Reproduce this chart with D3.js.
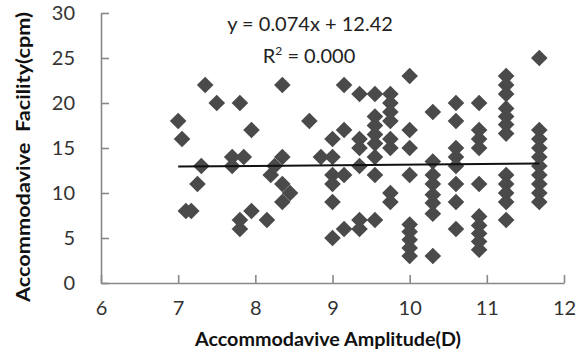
<!DOCTYPE html>
<html>
<head>
<meta charset="utf-8">
<script src="https://cdn.jsdelivr.net/npm/d3@7"></script>
<style>
  body { margin: 0; background: #fff; }
  text { font-family: Lato, "Liberation Sans", sans-serif; }
</style>
</head>
<body>
<svg id="chart"></svg>
<script>
// values
var amplitude = [7.0, 7.05, 7.1, 7.17, 7.25, 7.3, 7.35, 7.5, 7.7, 7.7, 7.8, 7.8, 7.8, 7.85, 7.95, 7.95,
  8.15, 8.2, 8.25, 8.35, 8.35, 8.35, 8.35, 8.45, 8.7, 8.85,
  9.0, 9.0, 9.0, 9.0, 9.0, 9.0, 9.15, 9.15, 9.15, 9.15,
  9.35, 9.35, 9.35, 9.35, 9.35, 9.35,
  9.55, 9.55, 9.55, 9.55, 9.55, 9.55, 9.55, 9.55,
  9.75, 9.75, 9.75, 9.75, 9.75, 9.75, 9.75, 9.75,
  10.0, 10.0, 10.0, 10.0, 10.0, 10.0, 10.0, 10.0, 10.0,
  10.3, 10.3, 10.3, 10.3, 10.3, 10.3, 10.3, 10.3,
  10.6, 10.6, 10.6, 10.6, 10.6, 10.6, 10.6, 10.6,
  10.9, 10.9, 10.9, 10.9, 10.9, 10.9, 10.9, 10.9, 10.9, 10.9,
  11.25, 11.25, 11.25, 11.25, 11.25, 11.25, 11.25, 11.25, 11.25, 11.25, 11.25, 11.25,
  11.68, 11.68, 11.68, 11.68, 11.68, 11.68, 11.68, 11.68, 11.68, 11.68];
var facility = [18, 16, 8, 8, 11, 13, 22, 20, 14, 13, 20, 7, 6, 14, 17, 8,
  7, 12, 13, 22, 14, 11, 9, 10, 18, 14,
  16, 14, 12, 11, 9, 5, 22, 17, 12, 6,
  21, 16, 15, 13, 7, 6,
  21, 18.5, 17.5, 16.5, 15.5, 14, 12, 7,
  21, 20, 19, 18, 16, 15, 10, 9,
  23, 17, 15, 12, 6.5, 5.7, 4.8, 3.9, 3,
  19, 13.5, 12, 11, 9.8, 8.9, 7.7, 3,
  20, 18, 15, 14, 13, 11, 9, 6,
  20, 17, 16, 15, 11, 7.4, 6.4, 5.5, 4.6, 3.7,
  23, 22, 21, 19.4, 18.5, 17.6, 16.6, 12, 11, 10, 9, 7,
  25, 17, 16, 15, 14, 13, 12, 11, 10, 9];
var xTicks = [6, 7, 8, 9, 10, 11, 12];
var yTicks = [0, 5, 10, 15, 20, 25, 30];
var slope = 0.074, intercept = 12.42;
var equation = "y = 0.074x + 12.42";
var rSquared = "0.000";

var W = 583, H = 356;
var svg = d3.select("#chart").attr("width", W).attr("height", H);

var x = d3.scaleLinear().domain([6, 12]).range([101, 564]);
var y = d3.scaleLinear().domain([0, 30]).range([283, 13]);

// axes, ticks point into the plot
var xAxis = svg.append("g")
  .attr("transform", "translate(0," + y(0) + ")")
  .call(d3.axisBottom(x).tickValues(xTicks).tickFormat(d3.format("d"))
    .tickSizeInner(-8).tickSizeOuter(0).tickPadding(18));
var yAxis = svg.append("g")
  .attr("transform", "translate(" + x(6) + ",0)")
  .call(d3.axisLeft(y).tickValues(yTicks).tickFormat(d3.format("d"))
    .tickSizeInner(-8).tickSizeOuter(0).tickPadding(26));

[xAxis, yAxis].forEach(function(g) {
  g.selectAll("path, line").attr("stroke", "#888").attr("stroke-width", 1.6);
  g.selectAll("text").attr("fill", "#333").style("font-size", "20px");
});

// points
var pts = amplitude.map(function(a, i) { return { a: a, f: facility[i] }; });
svg.append("g").selectAll("path")
  .data(pts)
  .enter()
  .append("path")
  .attr("d", d3.symbol(d3.symbolSquare, 138))
  .attr("transform", function(d) { return "translate(" + x(d.a) + "," + y(d.f) + ") rotate(45)"; })
  .attr("fill", "#4a4a4a");

// trend line over the data range
var ext = d3.extent(amplitude);
svg.append("path")
  .attr("d", d3.line()(ext.map(function(v) { return [x(v), y(slope * v + intercept)]; })))
  .attr("stroke", "#111")
  .attr("stroke-width", 2)
  .attr("fill", "none");

// equation
svg.append("text")
  .attr("x", 310).attr("y", 31)
  .attr("text-anchor", "middle")
  .style("font-size", "20px").attr("fill", "#222")
  .text(equation);
var r2 = svg.append("text")
  .attr("x", 309).attr("y", 63)
  .attr("text-anchor", "middle")
  .style("font-size", "20px").attr("fill", "#222");
r2.append("tspan").text("R");
r2.append("tspan").attr("dy", -8).style("font-size", "12px").text("2");
r2.append("tspan").attr("dy", 8).text(" = " + rSquared);

// axis titles
svg.append("text")
  .attr("x", 328).attr("y", 346)
  .attr("text-anchor", "middle")
  .attr("textLength", 266).attr("lengthAdjust", "spacingAndGlyphs")
  .style("font-size", "18px").style("font-weight", "bold").attr("fill", "#111")
  .text("Accommodavive Amplitude(D)");
svg.append("text")
  .attr("transform", "translate(30,157) rotate(-90)")
  .attr("text-anchor", "middle")
  .attr("textLength", 290).attr("lengthAdjust", "spacingAndGlyphs")
  .style("font-size", "18px").style("font-weight", "bold").style("white-space", "pre").attr("fill", "#111")
  .text("Accommodavive  Facility(cpm)");
</script>
</body>
</html>
